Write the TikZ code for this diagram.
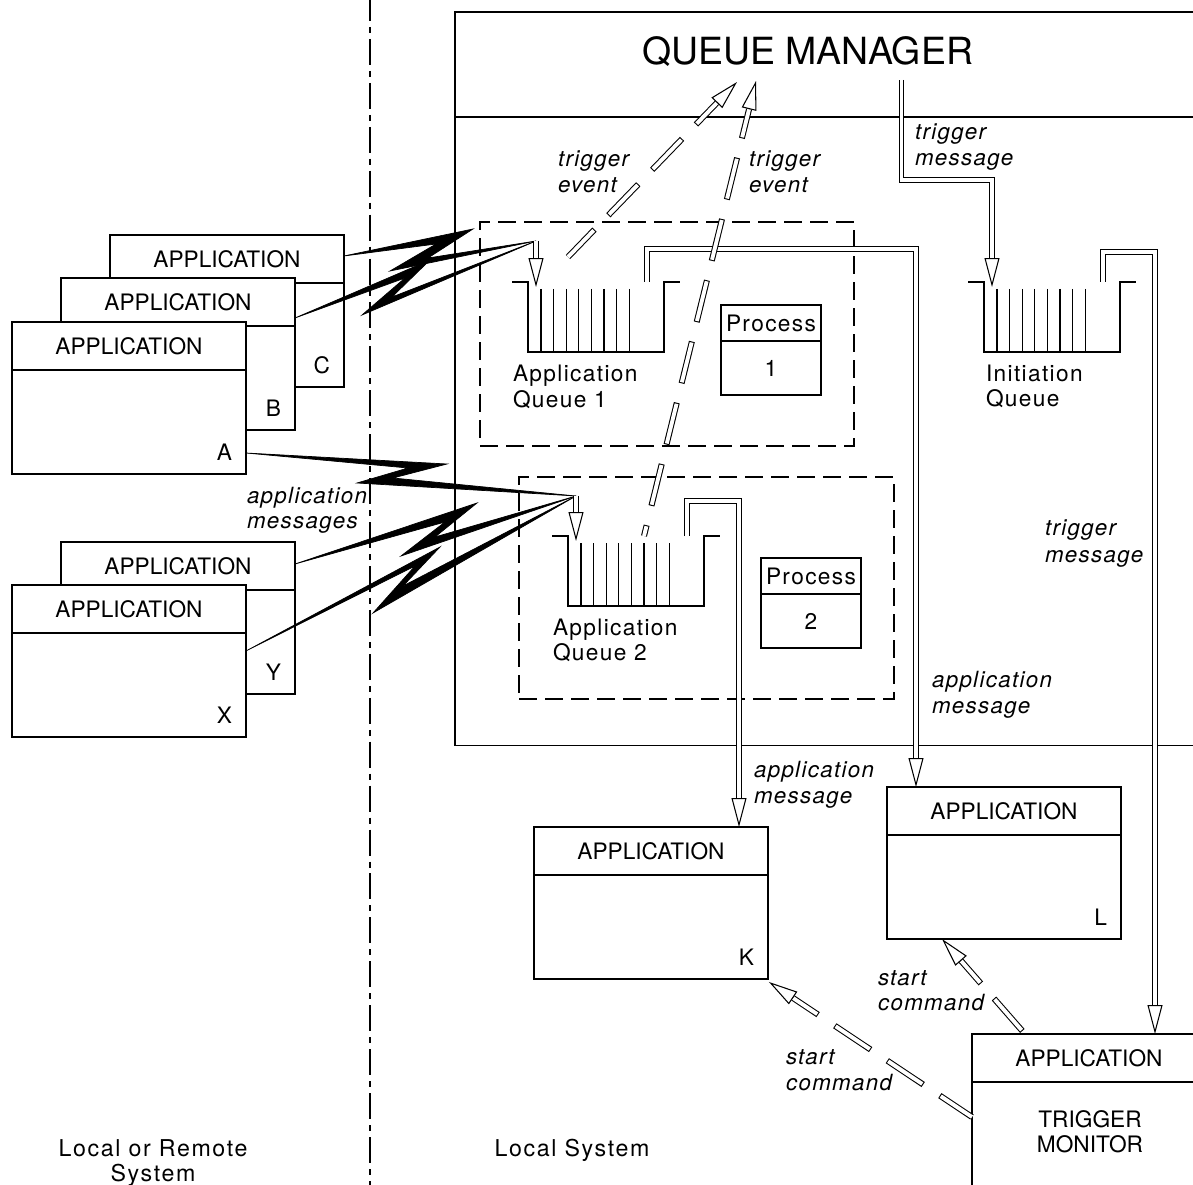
\documentclass[tikz,border=0pt]{standalone}
\usepackage{fontspec}
\setmainfont{TeX Gyre Heros}
\newfontfamily\trk{TeX Gyre Heros}[LetterSpace=6]
\newfontfamily\trkb{TeX Gyre Heros}[LetterSpace=7]
\usetikzlibrary{calc,arrows.meta}
\tikzset{
  every node/.style={inner sep=0pt, outer sep=0pt},
  ln/.style={line width=0.7pt},
  abox/.style={draw, line width=0.7pt, fill=white, anchor=north west, minimum width=4.68cm, minimum height=3.04cm},
  pbox/.style={draw, line width=0.7pt, anchor=north west, minimum width=2cm, minimum height=1.8cm},
  dbox/.style={draw, line width=0.7pt, dash pattern=on 10.2pt off 4.6pt, anchor=north west},
  up/.style={font=\fontsize{12.9}{15}\selectfont},
  lc/.style={font=\fontsize{12.9}{15}\selectfont\trk},
  lcb/.style={font=\fontsize{13.2}{15}\selectfont\trkb, anchor=base},
  it/.style={font=\fontsize{12.7}{15}\selectfont\trk\itshape, anchor=base west},
  dbl/.style={draw, line width=0.6pt, double=white, double distance=2.2pt},
  hd/.style={line width=0.6pt, -{Triangle[length=16.5pt, width=8.5pt, fill=white]}},
  tevO/.style={line width=3.4pt, dash pattern=on 24.5pt off 11.4pt, dash phase=7.4pt},
  tevI/.style={white, line width=2.2pt, dash pattern=on 0pt off 0.6pt on 23.3pt off 12pt, dash phase=7.4pt},
  bolt/.style={fill=black, draw=black, line width=0.4pt},
  ddot/.style={line width=0.7pt, dash pattern=on 14.8pt off 3.4pt on 3.4pt off 3.4pt},
  queue/.pic={
    \draw[ln] (-16,0) -- (0,0) -- (0,70) -- (136,70) -- (136,0) -- (152,0);
    \foreach \k in {0,...,7} \draw[ln] ({13+12.6*\k},7) -- ({13+12.6*\k},70);
    \coordinate (-in) at (8,5);
    \coordinate (-out) at (119,0);
  }
}
\newcommand\appbox[3]{%
  \node[abox] (#1) at #2 {};
  \draw[ln] ($(#1.north west)+(0,48)$) -- ($(#1.north east)+(0,48)$);
  \node[up] (#1h) at ($(#1.north)+(0,24)$) {APPLICATION};
  \node[up, anchor=base east] (#1l) at ($(#1.south east)+(-14,-13)$) {#3};
}
\begin{document}
\begin{tikzpicture}[x=0.02cm, y=-0.02cm]
\useasboundingbox (0,0) rectangle (1193,1185);
\clip (0,0) rectangle (1193,1185);

% system divider
\draw[ddot] (370,-5) -- (370,1190);

% queue manager
\node[draw, ln, anchor=north west, minimum width=14.9cm, minimum height=14.68cm] (qm) at (455,12) {};
\draw[ln] ($(qm.north west)+(0,105)$) -- ($(qm.north east)+(0,105)$);
\node[font=\fontsize{21.3}{25}\selectfont] (qmt) at (807.5,52) {QUEUE MANAGER};

% queue groups
\node[dbox, minimum width=7.48cm, minimum height=4.48cm] (q1box) at (480,222) {};
\node[dbox, minimum width=7.5cm, minimum height=4.44cm] (q2box) at (519,477) {};
\pic (q1) at (528,282) {queue};
\pic (q2) at (568,536) {queue};
\pic (qi) at (984,282) {queue};

\node[lc, anchor=base west] (q1ta) at (513,382) {Application};
\node[lc, anchor=base west] (q1tb) at (513,408) {Queue 1};
\node[lc, anchor=base west] (q2ta) at (553,635) {Application};
\node[lc, anchor=base west] (q2tb) at (553,660) {Queue 2};
\node[lc, anchor=base west] (qita) at (986,382) {Initiation};
\node[lc, anchor=base west] (qitb) at (986,407) {Queue};

% process boxes
\node[pbox] (p1) at (721,305) {};
\draw[ln] ($(p1.north west)+(0,36)$) -- ($(p1.north east)+(0,36)$);
\node[lc] (p1a) at ($(p1.north)+(0,18)$) {Process};
\node[lc] (p1b) at ($(p1.north)+(0,63)$) {1};
\node[pbox] (p2) at (761,558) {};
\draw[ln] ($(p2.north west)+(0,36)$) -- ($(p2.north east)+(0,36)$);
\node[lc] (p2a) at ($(p2.north)+(0,18)$) {Process};
\node[lc] (p2b) at ($(p2.north)+(0,63)$) {2};

% applications
\appbox{C}{(110,235)}{C}
\appbox{B}{(61,278)}{B}
\appbox{A}{(12,322)}{A}
\appbox{Y}{(61,542)}{Y}
\appbox{X}{(12,585)}{X}
\appbox{K}{(534,827)}{K}
\appbox{L}{(887,787)}{L}
\node[abox] (TM) at (972,1034) {};
\draw[ln] ($(TM.north west)+(0,48)$) -- ($(TM.north east)+(0,48)$);
\node[up] (TMh) at ($(TM.north)+(0,24)$) {APPLICATION};
\node[up, anchor=base] (TMa) at (1090,1127) {TRIGGER};
\node[up, anchor=base] (TMb) at (1090,1152) {MONITOR};

% convergence points
\coordinate (cv1) at (536,241);
\coordinate (cv2) at (576,496);

% lightning bolts
\path[bolt] ($(C.north east)+(0,21)$) -- (473,229) -- (428,258) -- (cv1) -- (390,271) -- (436,244) -- cycle;
\path[bolt] ($(B.north east)+(0,40)$) -- (430,260) -- (392,297) -- (cv1) -- (362,315) -- (405,278) -- cycle;
\path[bolt] ($(A.north east)+(0,131)$) -- (447,464) -- (393,478) -- (cv2) -- (357,483) -- (408,468) -- cycle;
\path[bolt] ($(Y.north east)+(0,22)$) -- (477,503) -- (435,537) -- (cv2) -- (401,556) -- (445,522) -- cycle;
\path[bolt] ($(X.north east)+(0,66)$) -- (440,547) -- (403,586) -- (cv2) -- (373,613) -- (415,566) -- cycle;

% solid double connectors
\coordinate (Lin) at ($(L.north west)+(29,0)$);
\coordinate (Kin) at ($(K.north west)+(205,0)$);
\coordinate (TMin) at ($(TM.north west)+(183,0)$);
\coordinate (tms) at (901.5,80);

\draw[dbl, shorten >=16pt] (cv1) -- (q1-in);
\draw[hd] ($(q1-in)+(0,-29)$) -- (q1-in);
\draw[dbl, shorten >=16pt] (cv2) -- (q2-in);
\draw[hd] ($(q2-in)+(0,-29)$) -- (q2-in);

\draw[dbl, shorten >=16pt] (q1-out) -- ++(0,-33) -| (Lin);
\draw[hd] ($(Lin)+(0,-29)$) -- (Lin);
\draw[dbl, shorten >=16pt] (q2-out) -- ++(0,-35) -| (Kin);
\draw[hd] ($(Kin)+(0,-29)$) -- (Kin);
\draw[dbl, shorten >=16pt] (tms) |- ($(qi-in)+(0,-107)$) -- (qi-in);
\draw[hd] ($(qi-in)+(0,-29)$) -- (qi-in);
\draw[dbl, shorten >=16pt] (qi-out) -- ++(0,-30) -| (TMin);
\draw[hd] ($(TMin)+(0,-29)$) -- (TMin);

% dashed double connectors (drawn from tip back to start)
\coordinate (t1s) at (568,257);
\coordinate (t1e) at (737,82);
\coordinate (t2s) at (644,536);
\coordinate (t2e) at (756,81);
\coordinate (sLs) at ($(TM.north west)+(53,0)$);
\coordinate (sLe) at ($(L.south west)+(55,0)$);
\coordinate (sKs) at ($(TM.north west)+(0,83)$);
\coordinate (sKe) at ($(K.south east)+(1,3)$);
\foreach \e/\s in {t1e/t1s, t2e/t2s, sLe/sLs, sKe/sKs} {
  \draw[tevO, shorten <=16.5pt] (\e) -- (\s);
  \draw[tevI, shorten <=16.5pt] (\e) -- (\s);
  \draw[hd] ($(\e)!16.5pt!(\s)$) -- (\e);
}

% labels
\node[it] (te1a) at (558,167) {trigger};
\node[it] (te1b) at (558,193) {event};
\node[it] (te2a) at (749,167) {trigger};
\node[it] (te2b) at (749,193) {event};
\node[it] (tm1a) at (915,140) {trigger};
\node[it] (tm1b) at (915,166) {message};
\node[it] (tm2a) at (1045,536) {trigger};
\node[it] (tm2b) at (1045,562) {message};
\node[it] (am1a) at (932,687) {application};
\node[it] (am1b) at (932,713) {message};
\node[it] (am2a) at (754,777) {application};
\node[it] (am2b) at (754,803) {message};
\node[it] (sc1a) at (878,985) {start};
\node[it] (sc1b) at (878,1010) {command};
\node[it] (sc2a) at (786,1064) {start};
\node[it] (sc2b) at (786,1090) {command};
\node[it] (ama) at (247,503) {application};
\node[it] (amb) at (247,528) {messages};

\node[lcb] (bl1) at (153,1156) {Local or Remote};
\node[lcb] (bl2) at (153,1181) {System};
\node[lcb] (bl3) at (572,1156) {Local System};
\end{tikzpicture}
\end{document}
